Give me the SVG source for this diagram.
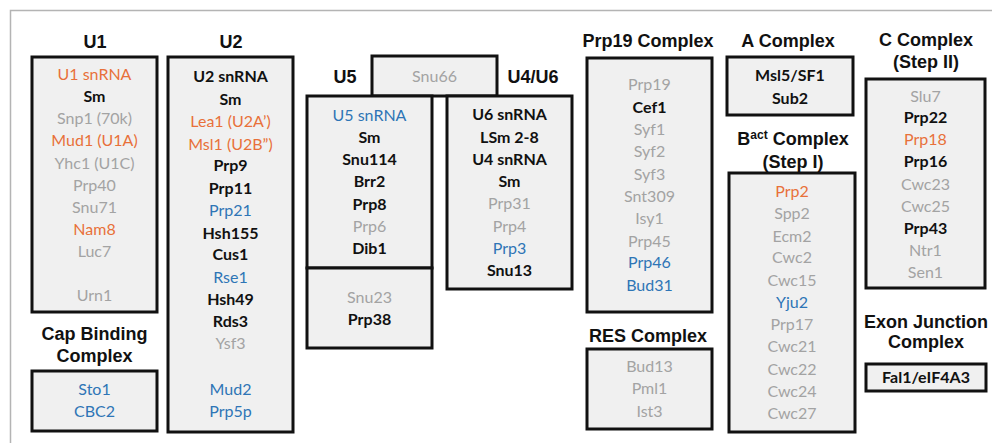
<svg xmlns="http://www.w3.org/2000/svg" width="992" height="443" viewBox="0 0 992 443">
<style>
.bg{fill:#ffffff}
.frame{stroke:#b4b4b4;stroke-width:1.5;fill:none}
.box{fill:#f0f0f0;stroke:#111;stroke-width:3}
.t{font-family:"Liberation Sans",Arial,sans-serif;font-weight:bold;font-size:18px;fill:#111;text-anchor:middle}
.i{font-family:Lato,"Open Sans",sans-serif;font-size:16px;text-anchor:middle}
.k{fill:#111;font-weight:bold}
.g{fill:#a3a3a3}
.o{fill:#e8703a}
.b{fill:#2e75b6}
</style>
<rect class="bg" x="0" y="0" width="992" height="443"/>
<path class="frame" d="M10.5,443 V10.5 H992"/>

<g id="U1">
<text class="t" x="95" y="48">U1</text>
<rect class="box" x="32" y="57" width="125" height="255"/>
<text class="i o" x="94.5" y="80">U1 snRNA</text>
<text class="i k" x="94.5" y="102">Sm</text>
<text class="i g" x="94.5" y="124">Snp1 (70k)</text>
<text class="i o" x="94.5" y="146">Mud1 (U1A)</text>
<text class="i g" x="94.5" y="169">Yhc1 (U1C)</text>
<text class="i g" x="94.5" y="191">Prp40</text>
<text class="i g" x="94.5" y="213">Snu71</text>
<text class="i o" x="94.5" y="235">Nam8</text>
<text class="i g" x="94.5" y="257">Luc7</text>
<text class="i g" x="94.5" y="301">Urn1</text>
</g>

<g id="CapBinding">
<text class="t" x="94.5" y="340">Cap Binding</text>
<text class="t" x="94.5" y="362">Complex</text>
<rect class="box" x="32" y="371" width="125" height="60"/>
<text class="i b" x="94.5" y="395">Sto1</text>
<text class="i b" x="94.5" y="417">CBC2</text>
</g>

<g id="U2">
<text class="t" x="231" y="48">U2</text>
<rect class="box" x="168" y="57" width="125" height="375"/>
<text class="i k" x="230.5" y="82">U2 snRNA</text>
<text class="i k" x="230.5" y="105">Sm</text>
<text class="i o" x="230.5" y="127">Lea1 (U2A’)</text>
<text class="i o" x="230.5" y="150">Msl1 (U2B”)</text>
<text class="i k" x="230.5" y="171">Prp9</text>
<text class="i k" x="230.5" y="194">Prp11</text>
<text class="i b" x="230.5" y="216">Prp21</text>
<text class="i k" x="230.5" y="239">Hsh155</text>
<text class="i k" x="230.5" y="260">Cus1</text>
<text class="i b" x="230.5" y="283">Rse1</text>
<text class="i k" x="230.5" y="305">Hsh49</text>
<text class="i k" x="230.5" y="327">Rds3</text>
<text class="i g" x="230.5" y="349">Ysf3</text>
<text class="i b" x="230.5" y="395">Mud2</text>
<text class="i b" x="230.5" y="417">Prp5p</text>
</g>

<g id="Snu66">
<rect class="box" x="372" y="56" width="125" height="40"/>
<text class="i g" x="434.5" y="82">Snu66</text>
</g>

<g id="U5">
<text class="t" x="345" y="83">U5</text>
<rect class="box" x="307" y="96" width="125" height="172"/>
<text class="i b" x="369.5" y="121">U5 snRNA</text>
<text class="i k" x="369.5" y="143">Sm</text>
<text class="i k" x="369.5" y="165">Snu114</text>
<text class="i k" x="369.5" y="187">Brr2</text>
<text class="i k" x="369.5" y="210">Prp8</text>
<text class="i g" x="369.5" y="232">Prp6</text>
<text class="i k" x="369.5" y="254">Dib1</text>
<rect class="box" x="307" y="268" width="125" height="80"/>
<text class="i g" x="369.5" y="303">Snu23</text>
<text class="i k" x="369.5" y="325">Prp38</text>
</g>

<g id="U4U6">
<text class="t" x="533" y="83">U4/U6</text>
<rect class="box" x="447" y="96" width="125" height="193"/>
<text class="i k" x="509.5" y="120">U6 snRNA</text>
<text class="i k" x="509.5" y="143">LSm 2-8</text>
<text class="i k" x="509.5" y="165">U4 snRNA</text>
<text class="i k" x="509.5" y="187">Sm</text>
<text class="i g" x="509.5" y="209">Prp31</text>
<text class="i g" x="509.5" y="232">Prp4</text>
<text class="i b" x="509.5" y="254">Prp3</text>
<text class="i k" x="509.5" y="276">Snu13</text>
</g>

<g id="Prp19">
<text class="t" x="648" y="47">Prp19 Complex</text>
<rect class="box" x="587" y="58" width="125" height="254"/>
<text class="i g" x="649.5" y="90">Prp19</text>
<text class="i k" x="649.5" y="113">Cef1</text>
<text class="i g" x="649.5" y="135">Syf1</text>
<text class="i g" x="649.5" y="157">Syf2</text>
<text class="i g" x="649.5" y="180">Syf3</text>
<text class="i g" x="649.5" y="202">Snt309</text>
<text class="i g" x="649.5" y="224">Isy1</text>
<text class="i g" x="649.5" y="247">Prp45</text>
<text class="i b" x="649.5" y="268">Prp46</text>
<text class="i b" x="649.5" y="291">Bud31</text>
</g>

<g id="RES">
<text class="t" x="648" y="342">RES Complex</text>
<rect class="box" x="587" y="349" width="125" height="80"/>
<text class="i g" x="649.5" y="372">Bud13</text>
<text class="i g" x="649.5" y="394">Pml1</text>
<text class="i g" x="649.5" y="417">Ist3</text>
</g>

<g id="AComplex">
<text class="t" x="788" y="47">A Complex</text>
<rect class="box" x="727" y="57" width="126" height="58"/>
<text class="i k" x="790" y="81">Msl5/SF1</text>
<text class="i k" x="790" y="104">Sub2</text>
</g>

<g id="Bact">
<text class="t" x="793" y="145">B<tspan font-size="12" dy="-6">act</tspan><tspan dy="6"> Complex</tspan></text>
<text class="t" x="793" y="168">(Step I)</text>
<rect class="box" x="729" y="173" width="126" height="259"/>
<text class="i o" x="792" y="197">Prp2</text>
<text class="i g" x="792" y="219">Spp2</text>
<text class="i g" x="792" y="242">Ecm2</text>
<text class="i g" x="792" y="263">Cwc2</text>
<text class="i g" x="792" y="286">Cwc15</text>
<text class="i b" x="792" y="308">Yju2</text>
<text class="i g" x="792" y="330">Prp17</text>
<text class="i g" x="792" y="352">Cwc21</text>
<text class="i g" x="792" y="375">Cwc22</text>
<text class="i g" x="792" y="397">Cwc24</text>
<text class="i g" x="792" y="419">Cwc27</text>
</g>

<g id="CComplex">
<text class="t" x="926" y="46">C Complex</text>
<text class="t" x="926" y="68">(Step II)</text>
<rect class="box" x="866" y="79" width="119" height="209"/>
<text class="i g" x="925.5" y="102">Slu7</text>
<text class="i k" x="925.5" y="123">Prp22</text>
<text class="i o" x="925.5" y="145">Prp18</text>
<text class="i k" x="925.5" y="167">Prp16</text>
<text class="i g" x="925.5" y="190">Cwc23</text>
<text class="i g" x="925.5" y="212">Cwc25</text>
<text class="i k" x="925.5" y="234">Prp43</text>
<text class="i g" x="925.5" y="256">Ntr1</text>
<text class="i g" x="925.5" y="278">Sen1</text>
</g>

<g id="ExonJunction">
<text class="t" x="926" y="328">Exon Junction</text>
<text class="t" x="926" y="348">Complex</text>
<rect class="box" x="866" y="364" width="120" height="27"/>
<text class="i k" x="926" y="383">Fal1/eIF4A3</text>
</g>
</svg>
